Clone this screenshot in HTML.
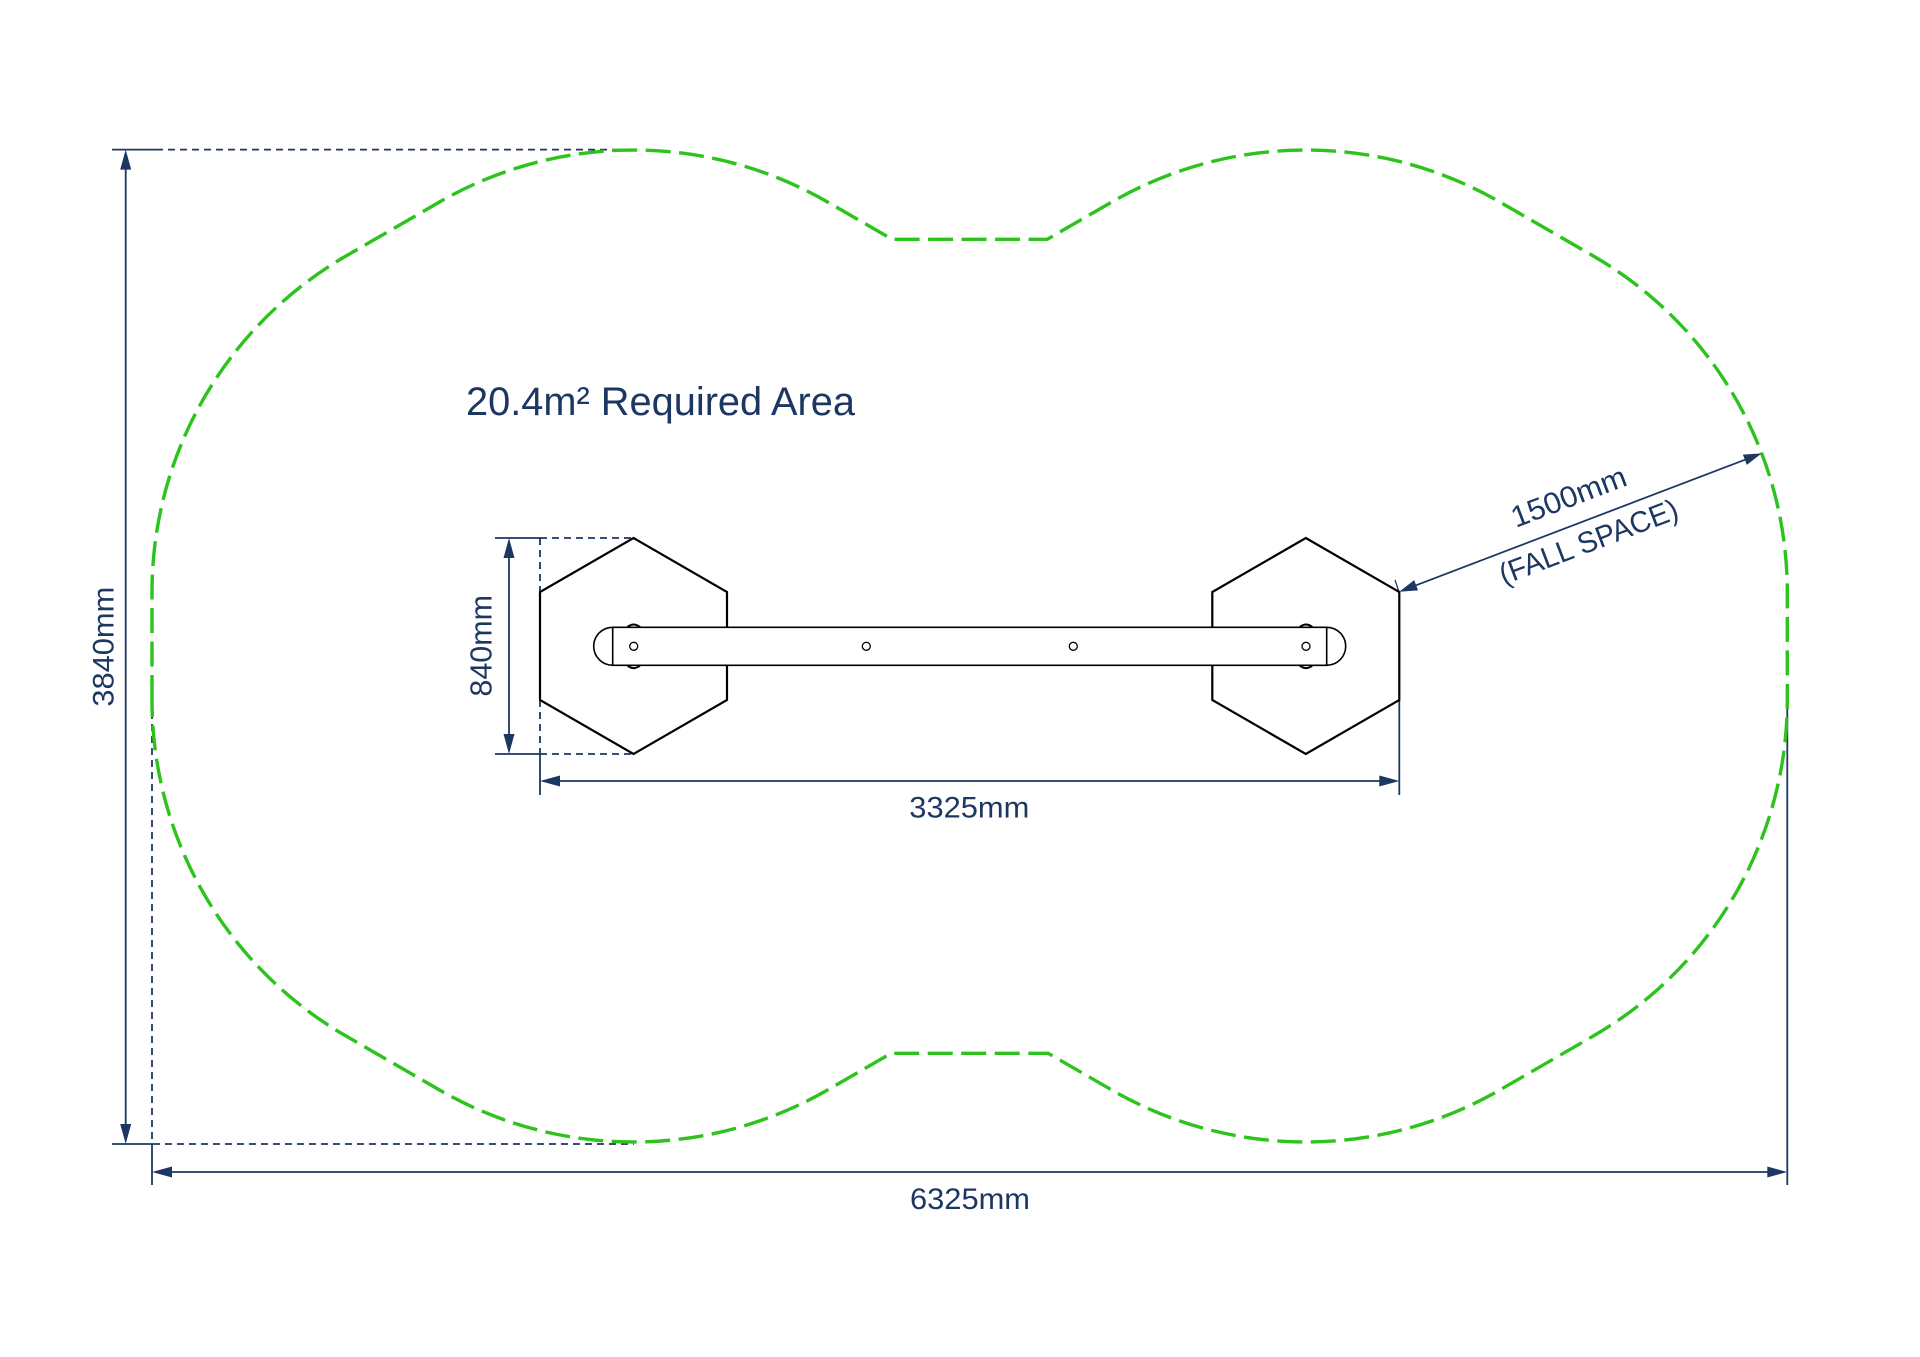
<!DOCTYPE html>
<html>
<head>
<meta charset="utf-8">
<style>
  html, body { margin: 0; padding: 0; background: #ffffff; }
  body { width: 1920px; height: 1357px; overflow: hidden; }
  svg { display: block; }
  text { font-family: "Liberation Sans", sans-serif; fill: #1d3763; }
</style>
</head>
<body>
<svg width="1920" height="1357" viewBox="0 0 1920 1357" xmlns="http://www.w3.org/2000/svg">
  <rect x="0" y="0" width="1920" height="1357" fill="#ffffff"/>

  <!-- ===== Dimension / extension lines (navy) ===== -->
  <g stroke="#1d3763" stroke-width="1.8" fill="none">
    <!-- 3840 top extension -->
    <line x1="112" y1="149.6" x2="156" y2="149.6"/>
    <line x1="156" y1="149.6" x2="634" y2="149.6" stroke-dasharray="7 5"/>
    <!-- 3840 bottom extension -->
    <line x1="112" y1="1144" x2="153" y2="1144"/>
    <line x1="153" y1="1144" x2="634" y2="1144" stroke-dasharray="7 5"/>
    <!-- 3840 vertical dim line -->
    <line x1="125.7" y1="160" x2="125.7" y2="1134"/>

    <!-- left extension (6325) -->
    <line x1="152" y1="700" x2="152" y2="1144" stroke-dasharray="7 5"/>
    <line x1="152" y1="1144" x2="152" y2="1185"/>
    <!-- right extension (6325) -->
    <line x1="1787.3" y1="700" x2="1787.3" y2="1185"/>
    <!-- 6325 horizontal dim line -->
    <line x1="160" y1="1172" x2="1779" y2="1172"/>

    <!-- 840 extensions -->
    <line x1="495" y1="538" x2="540" y2="538"/>
    <line x1="540" y1="538" x2="633.5" y2="538" stroke-dasharray="7 5"/>
    <line x1="495" y1="754" x2="540" y2="754"/>
    <line x1="540" y1="754" x2="633.5" y2="754" stroke-dasharray="7 5"/>
    <line x1="540" y1="538" x2="540" y2="592" stroke-dasharray="7 5"/>
    <line x1="540" y1="700" x2="540" y2="754" stroke-dasharray="7 5"/>
    <!-- 840 vertical dim line -->
    <line x1="509" y1="548" x2="509" y2="744"/>

    <!-- 3325 extensions -->
    <line x1="540" y1="754" x2="540" y2="795"/>
    <line x1="1399.3" y1="700" x2="1399.3" y2="795"/>
    <!-- 3325 dim line -->
    <line x1="550" y1="781" x2="1390" y2="781"/>

    <!-- small tick at hex vertex -->
    <line x1="1395" y1="580" x2="1399" y2="592" stroke-width="1.3"/>
  </g>

  <!-- arrowheads -->
  <g fill="#1d3763" stroke="none">
    <!-- 3840 -->
    <polygon points="125.7,149.6 120.2,169.6 131.2,169.6"/>
    <polygon points="125.7,1144 120.2,1124 131.2,1124"/>
    <!-- 840 -->
    <polygon points="509,538 503.5,558 514.5,558"/>
    <polygon points="509,754 503.5,734 514.5,734"/>
    <!-- 3325 -->
    <polygon points="540,781 560,775.5 560,786.5"/>
    <polygon points="1399.3,781 1379.3,775.5 1379.3,786.5"/>
    <!-- 6325 -->
    <polygon points="152,1172 172,1166.5 172,1177.5"/>
    <polygon points="1787.3,1172 1767.3,1166.5 1767.3,1177.5"/>
  </g>

  <!-- ===== Hexagons ===== -->
  <g stroke="#000000" stroke-width="2.2" fill="#ffffff" stroke-linejoin="miter">
    <polygon points="633.5,538 727,592 727,700 633.5,754 540,700 540,592"/>
    <polygon points="1305.8,538 1399.3,592 1399.3,700 1305.8,754 1212.3,700 1212.3,592"/>
  </g>

  <!-- ===== Bar ===== -->
  <g stroke="#000000" stroke-width="1.6" fill="#ffffff">
    <path d="M612.7,627.3 L1326.7,627.3 A19,19 0 0 1 1326.7,665.3 L612.7,665.3 A19,19 0 0 1 612.7,627.3 Z"/>
    <line x1="612.7" y1="627.3" x2="612.7" y2="665.3"/>
    <line x1="1326.7" y1="627.3" x2="1326.7" y2="665.3"/>
    <circle cx="633.7" cy="646.3" r="4" stroke-width="1.3"/>
    <circle cx="866.3" cy="646.3" r="4" stroke-width="1.3"/>
    <circle cx="1073.3" cy="646.3" r="4" stroke-width="1.3"/>
    <circle cx="1306" cy="646.3" r="4" stroke-width="1.3"/>
  </g>
  <!-- bolt bumps -->
  <g stroke="#000000" stroke-width="2" fill="none">
    <path d="M627.5,627 Q633.7,622 640,627"/>
    <path d="M627.5,665.6 Q633.7,670.6 640,665.6"/>
    <path d="M1299.8,627 Q1306,622 1312.3,627"/>
    <path d="M1299.8,665.6 Q1306,670.6 1312.3,665.6"/>
  </g>

  <!-- ===== Fall space outline (green dashed) ===== -->
  <path fill="none" stroke="#2cc41c" stroke-width="3.4" stroke-dasharray="25 8.5"
    d="M152,700 L152,592
       A388,388 0 0 1 346,256
       L439.5,202
       A388,388 0 0 1 827.5,202
       L892.1,239.3
       L1047.2,239.3
       L1111.8,202
       A388,388 0 0 1 1499.8,202
       L1593.3,256
       A388,388 0 0 1 1787.3,592
       L1787.3,700
       A388,388 0 0 1 1593.3,1036
       L1499.8,1090
       A388,388 0 0 1 1111.8,1090
       L1048.2,1053.3
       L891.1,1053.3
       L827.5,1090
       A388,388 0 0 1 439.5,1090
       L346,1036
       A388,388 0 0 1 152,700 Z"/>

  <!-- ===== Fall space dimension ===== -->
  <g transform="translate(1399.3,591.7) rotate(-20.9)">
    <line x1="14" y1="0" x2="374" y2="0" stroke="#1d3763" stroke-width="1.8"/>
    <polygon points="0,0 18,-5.5 18,5.5" fill="#1d3763"/>
    <polygon points="387.9,0 369.9,-5.5 369.9,5.5" fill="#1d3763"/>
    <text x="192" y="-18" font-size="30" text-anchor="middle" textLength="121" lengthAdjust="spacingAndGlyphs">1500mm</text>
    <text x="194.6" y="31" font-size="30" text-anchor="middle" textLength="189" lengthAdjust="spacingAndGlyphs">(FALL SPACE)</text>
  </g>

  <!-- ===== Labels ===== -->
  <text x="466" y="415" font-size="40" textLength="389" lengthAdjust="spacingAndGlyphs">20.4m² Required Area</text>

  <text transform="translate(113.3,646.7) rotate(-90)" font-size="30" text-anchor="middle" textLength="120" lengthAdjust="spacingAndGlyphs">3840mm</text>
  <text transform="translate(491.7,645.8) rotate(-90)" font-size="31" text-anchor="middle" textLength="101.7" lengthAdjust="spacingAndGlyphs">840mm</text>

  <text x="969.3" y="817.7" font-size="30" text-anchor="middle" textLength="120" lengthAdjust="spacingAndGlyphs">3325mm</text>
  <text x="970" y="1209" font-size="30" text-anchor="middle" textLength="120" lengthAdjust="spacingAndGlyphs">6325mm</text>
</svg>
</body>
</html>
